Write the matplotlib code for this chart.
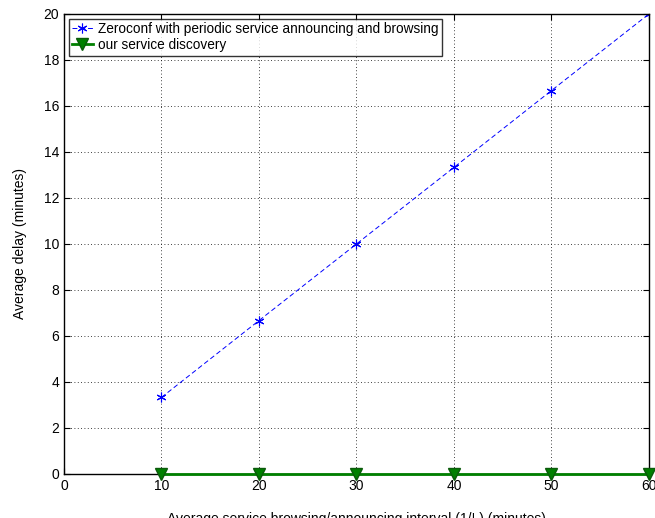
import matplotlib
matplotlib.use("Agg")
import matplotlib.pyplot as plt

# Data
intervals = [10, 20, 30, 40, 50, 60]
zeroconf_delay = [3.33, 6.67, 10.0, 13.33, 16.67, 20.0]
our_delay = [0, 0, 0, 0, 0, 0]

plt.rcParams['font.family'] = ['Liberation Sans', 'DejaVu Sans']

fig = plt.figure(figsize=(6.55, 5.18), dpi=100)
ax = fig.add_axes([0.0977, 0.085, 0.893, 0.888])

ax.plot(intervals, zeroconf_delay, color='blue', linestyle=(0, (5, 3)), linewidth=0.7,
        marker=(6, 2, 0), markersize=7, markeredgewidth=0.8,
        label='Zeroconf with periodic service announcing and browsing')
ax.plot(intervals, our_delay, color='green', linestyle='-', linewidth=2,
        marker='v', markersize=9, markerfacecolor='green', markeredgecolor='#0a5a0a',
        label='our service discovery', clip_on=False, zorder=5)

ax.set_xlim(0, 60)
ax.set_ylim(0, 20)
ax.set_xticks(range(0, 61, 10))
ax.set_yticks(range(0, 21, 2))
ax.grid(True, color='black', linestyle=(0, (1, 3)), linewidth=0.6)
ax.tick_params(direction='in', labelsize=10, length=4, top=True, right=True)
for s in ax.spines.values():
    s.set_linewidth(1.0)

ax.set_xlabel('Average service browsing/announcing interval (1/! ) (minutes)', fontsize=10, labelpad=14)
ax.set_ylabel('Average delay (minutes)', fontsize=10, labelpad=12)

leg = ax.legend(loc='upper left', fontsize=9.8, frameon=True, fancybox=False,
                edgecolor='black', borderpad=0.25, labelspacing=0.15,
                handlelength=1.5, handletextpad=0.4, borderaxespad=0.35)
leg.get_frame().set_linewidth(1.0)

fig.savefig('out.png', dpi=100)
